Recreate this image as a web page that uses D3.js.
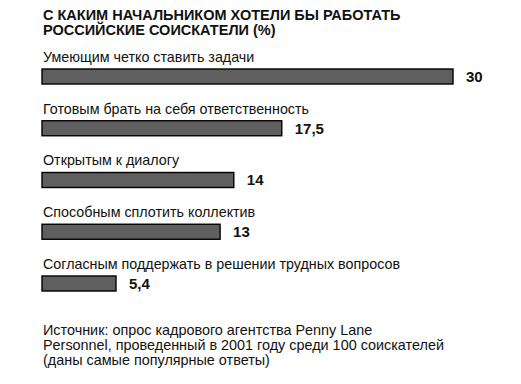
<!DOCTYPE html>
<html><head><meta charset="utf-8">
<script src="https://cdn.jsdelivr.net/npm/d3@7"></script>
<style>body{margin:0;background:#fff}svg{display:block}</style>
</head><body>
<script>
const titleLines = ["С КАКИМ НАЧАЛЬНИКОМ ХОТЕЛИ БЫ РАБОТАТЬ", "РОССИЙСКИЕ СОИСКАТЕЛИ (%)"];
const categories = ["Умеющим четко ставить задачи","Готовым брать на себя ответственность","Открытым к диалогу","Способным сплотить коллектив","Согласным поддержать в решении трудных вопросов"];
const values = [30, 17.5, 14, 13, 5.4];
const valueLabels = ["30","17,5","14","13","5,4"];
const sourceLines = ["Источник: опрос кадрового агентства Penny Lane","Personnel, проведенный в 2001 году среди 100 соискателей","(даны самые популярные ответы)"];

const W=521,H=384;
const svg=d3.select("body").append("svg").attr("width",W).attr("height",H);
const font="'Liberation Sans', Arial, Helvetica, sans-serif";
const x=d3.scaleLinear().domain([0,30]).range([42,453]);
const y=d3.scaleBand().domain(categories).range([69,291]).paddingInner(0.71).paddingOuter(0);

svg.append("g").selectAll("text").data(titleLines).join("text")
  .attr("x",43).attr("y",(d,i)=>20+i*14.5)
  .attr("font-family",font).attr("font-weight","bold").attr("font-size",14.5)
  .attr("fill","#111").text(d=>d);

const g=svg.append("g");
g.selectAll("text.cat").data(categories).join("text").attr("class","cat")
  .attr("x",43).attr("y",d=>y(d)-7)
  .attr("font-family",font).attr("font-size",14.3).attr("fill","#111").text(d=>d);
g.selectAll("rect").data(values).join("rect")
  .attr("x",x(0)).attr("y",(d,i)=>y(categories[i]))
  .attr("width",d=>x(d)-x(0)).attr("height",y.bandwidth())
  .attr("fill","#5f5f5f").attr("stroke","#000").attr("stroke-width",1.4);
g.selectAll("text.val").data(values).join("text").attr("class","val")
  .attr("x",d=>x(d)+13).attr("y",(d,i)=>y(categories[i])+13)
  .attr("font-family",font).attr("font-weight","bold").attr("font-size",15)
  .attr("fill","#111").text((d,i)=>valueLabels[i]);

svg.append("g").selectAll("text").data(sourceLines).join("text")
  .attr("x",43).attr("y",(d,i)=>335+i*15)
  .attr("font-family",font).attr("font-size",14.4).attr("fill","#111").text(d=>d);
</script>
</body></html>
